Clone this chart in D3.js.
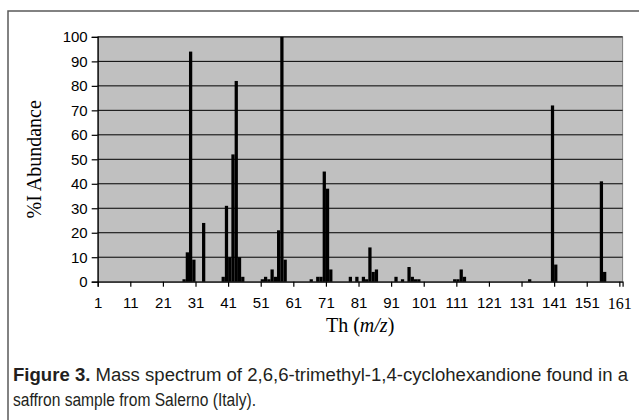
<!DOCTYPE html>
<html>
<head>
<meta charset="utf-8">
<script src="https://cdn.jsdelivr.net/npm/d3@7/dist/d3.min.js"></script>
<style>
  html, body { margin: 0; padding: 0; background: #fff; }
  svg { display: block; }
</style>
</head>
<body>
<svg id="chart" width="639" height="420"></svg>
<script>
// ---- data ----
const categoryCount = 161;                 // categories 1 .. 161
const peakCategories = [27, 28, 29, 30, 33,
  39, 40, 41, 42, 43, 44, 45,
  51, 52, 53, 54, 55, 56, 57, 58,
  66, 68, 69, 70, 71, 72,
  78, 80, 82, 83, 84, 85, 86,
  92, 94, 96, 97, 98, 99,
  110, 111, 112, 113,
  133, 140, 141, 155, 156];
const peakValues = [1, 12, 94, 9, 24,
  2, 31, 10, 52, 82, 10, 2,
  1, 2, 1, 5, 2, 21, 100, 9,
  1, 2, 2, 45, 38, 5,
  2, 2, 2, 1, 14, 4, 5,
  2, 1, 6, 2, 1, 1,
  1, 1, 5, 2,
  1, 72, 7, 41, 4];
const xTickLabels = ["1", "11", "21", "31", "41", "51", "61", "71", "81", "91",
  "101", "111", "121", "131", "141", "151", "161"];
const yTickValues = [0, 10, 20, 30, 40, 50, 60, 70, 80, 90, 100];
const yTitle = "%I Abundance";
const captionBold = "Figure 3.";
const captionLine1 = " Mass spectrum of 2,6,6-trimethyl-1,4-cyclohexandione found in a";
const captionLine2 = "saffron sample from Salerno (Italy).";

// full table built from the arrays above
const table = d3.range(1, categoryCount + 1).map(c => {
  const i = peakCategories.indexOf(c);
  return { cat: c, value: i >= 0 ? peakValues[i] : 0 };
});

// ---- layout ----
const svg = d3.select("#chart");
const plot = { left: 97.7, right: 622.6, top: 36.9, bottom: 281.7 };
const sansFont = "'Liberation Sans', Arial, sans-serif";
const serifFont = "'Liberation Serif', 'Times New Roman', serif";

svg.append("rect").attr("width", 639).attr("height", 420).attr("fill", "#fff");

// outer frame (top and left edges)
svg.append("path")
  .attr("d", "M8,420V11H639")
  .attr("fill", "none").attr("stroke", "#5a5a5a").attr("stroke-width", 1.5);

// scales: category c occupies [x(c), x(c+1)]
const x = d3.scaleLinear().domain([1, categoryCount + 1]).range([plot.left, plot.right]);
const y = d3.scaleLinear().domain([0, 100]).range([plot.bottom, plot.top]);

// plot area
svg.append("rect")
  .attr("x", plot.left).attr("y", plot.top)
  .attr("width", plot.right - plot.left).attr("height", plot.bottom - plot.top)
  .attr("fill", "#c0c0c0").attr("stroke", "#808080").attr("stroke-width", 1);

// gridlines
svg.append("g").selectAll("line")
  .data(yTickValues.filter(v => v > 0))
  .join("line")
  .attr("x1", plot.left).attr("x2", plot.right)
  .attr("y1", d => y(d)).attr("y2", d => y(d))
  .attr("stroke", "#000").attr("stroke-width", 1);

// bars
const step = x(2) - x(1);
svg.append("g").selectAll("rect")
  .data(table.filter(d => d.value > 0))
  .join("rect")
  .attr("x", d => x(d.cat))
  .attr("width", step)
  .attr("y", d => y(d.value))
  .attr("height", d => y(0) - y(d.value))
  .attr("fill", "#000");

// y axis
const yAxis = svg.append("g")
  .attr("transform", `translate(${plot.left},0)`)
  .call(d3.axisLeft(y).tickValues(yTickValues).tickSize(6).tickPadding(4).tickFormat(d3.format("d")));
yAxis.select(".domain").attr("stroke", "#000").attr("stroke-width", 1.2);
yAxis.selectAll(".tick line").attr("stroke", "#000").attr("stroke-width", 1.2);
yAxis.selectAll(".tick text").attr("font-family", sansFont).attr("font-size", 15).attr("fill", "#000");

// x axis
const xAxis = svg.append("g")
  .attr("transform", `translate(0,${plot.bottom})`)
  .call(d3.axisBottom(x).tickValues(xTickLabels.map(Number)).tickSize(5).tickPadding(11).tickFormat(d3.format("d")));
xAxis.select(".domain").attr("stroke", "#000").attr("stroke-width", 1.2);
xAxis.selectAll(".tick line").attr("stroke", "#000").attr("stroke-width", 1.2);
xAxis.selectAll(".tick text").attr("font-family", sansFont).attr("font-size", 15).attr("fill", "#000");
xAxis.selectAll(".tick text").filter(d => d === 161).attr("font-family", serifFont).attr("font-size", 16);

// axis titles
svg.append("text")
  .attr("transform", `translate(41,${(plot.top + plot.bottom) / 2}) rotate(-90)`)
  .attr("text-anchor", "middle")
  .attr("font-family", serifFont).attr("font-size", 20).attr("fill", "#000")
  .text(yTitle);

const xt = svg.append("text")
  .attr("x", (plot.left + plot.right) / 2).attr("y", 332)
  .attr("text-anchor", "middle")
  .attr("font-family", serifFont).attr("font-size", 20).attr("fill", "#000");
xt.append("tspan").text("Th (");
xt.append("tspan").attr("font-style", "italic").text("m/z");
xt.append("tspan").text(")");

// caption
const capFont = "'Liberation Sans Narrow', 'Liberation Sans', sans-serif";
const c1 = svg.append("text")
  .attr("x", 13).attr("y", 381)
  .attr("font-family", capFont).attr("font-size", 18).attr("fill", "#231f20")
  .attr("textLength", 615).attr("lengthAdjust", "spacingAndGlyphs");
c1.append("tspan").attr("font-weight", "bold").text(captionBold);
c1.append("tspan").text(captionLine1);
svg.append("text")
  .attr("x", 13).attr("y", 406)
  .attr("font-family", capFont).attr("font-size", 18).attr("fill", "#231f20")
  .attr("textLength", 243).attr("lengthAdjust", "spacingAndGlyphs")
  .text(captionLine2);
</script>
</body>
</html>
